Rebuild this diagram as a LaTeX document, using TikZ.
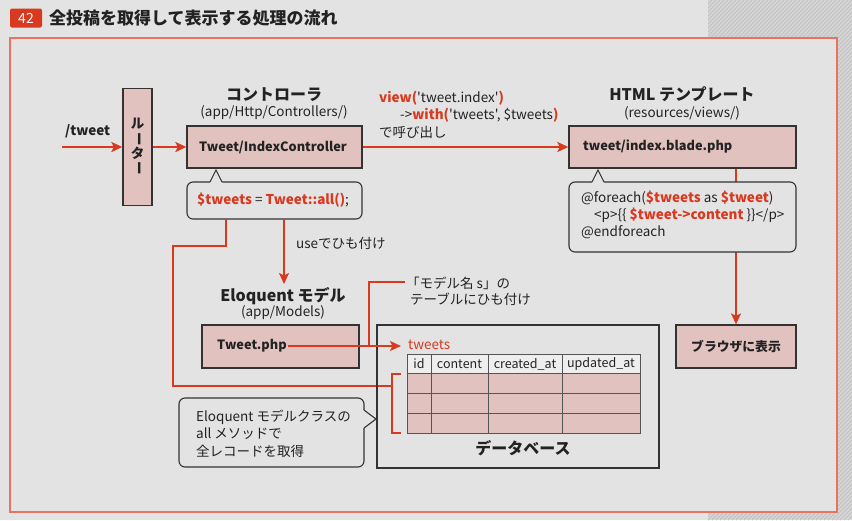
\documentclass[tikz,border=0pt]{standalone}
\usepackage{fontspec}
\setmainfont{Noto Sans CJK JP}[Ligatures=TeXOff]
\usetikzlibrary{arrows.meta}
\definecolor{bg}{HTML}{E3E3E3}
\definecolor{hatchbg}{HTML}{D9D9D9}
\definecolor{hatchln}{HTML}{C4C4C4}
\definecolor{myred}{HTML}{D8391F}
\definecolor{framered}{HTML}{E8735E}
\definecolor{pinkfill}{HTML}{E2C2BE}
\definecolor{boxline}{HTML}{333333}
\definecolor{tabline}{HTML}{555555}
\definecolor{headfill}{HTML}{EEEEEE}
\definecolor{txt}{HTML}{222222}
\newcommand\rd[1]{\textcolor{myred}{\bfseries #1}}
\newcommand\fs[1]{\fontsize{#1}{#1}\selectfont}
\begin{document}
\begin{tikzpicture}[x=1pt,y=-1pt,
  every node/.style={text=txt},
  pbox/.style={draw=boxline, line width=1.3pt, fill=pinkfill, inner sep=0pt},
  btxt/.style={font=\fs{12.8}\bfseries, inner sep=1pt},
  ttl/.style={font=\fs{16}\bfseries, inner sep=0pt},
  sub/.style={font=\fs{13.5}, inner sep=0pt},
  lbl/.style={font=\fs{13.5}, inner sep=0pt, anchor=west},
  callout/.style={draw=boxline, line width=1.1pt, fill=bg, rounded corners=6pt, inner sep=0pt},
  redarrow/.style={draw=myred, line width=2.2pt, -{Stealth[length=11pt,width=10pt,inset=2.5pt]}},
  redline/.style={draw=myred, line width=1.4pt},
  hdr/.style={font=\fs{12.5}, inner sep=0pt}
]
\useasboundingbox (0,0) rectangle (852,520);
\fill[bg] (0,0) rectangle (852,520);
% hatched corner
\begin{scope}
  \clip (708,0) rectangle (852,520);
  \fill[hatchbg] (708,0) rectangle (852,520);
  \foreach \a in {184,188,...,852} \draw[hatchln, line width=1.1pt] (\a,520) -- ++(520,-520);
\end{scope}
% main frame
\fill[bg] (10,38) rectangle (837,512);
\draw[framered, line width=1.3pt] (10,38) rectangle (837,512);
% title
\node[fill=myred, rounded corners=2pt, minimum width=32pt, minimum height=19pt, inner sep=0pt,
      text=white, font=\fs{14}] (badge) at (26,18) {42};
\node[anchor=west, font=\fs{17}\bfseries, inner sep=0pt] (title) at (49,18) {全投稿を取得して表示する処理の流れ};

% router
\node[pbox, minimum width=29pt, minimum height=117pt, align=center, font=\fs{13.5}\bfseries]
  (router) at (137.5,147) {\setlength{\baselineskip}{14.5pt}ル\\\rotatebox[origin=c]{-90}{ー}\\タ\\\rotatebox[origin=c]{-90}{ー}};
\node[lbl, font=\fs{13.5}\bfseries] (tw) at (65,131) {/tweet};
\coordinate (start) at (62,147);
\draw[redarrow] (start) -- (router.west);

% controller
\node[ttl] (ctrlt) at (274,95) {コントローラ};
\node[sub] (ctrls) at (274,113) {(app/Http/Controllers/)};
\node[pbox, minimum width=175pt, minimum height=42pt] (ctrl) at (274.5,147) {};
\node[btxt] (ctrltxt) at (273,147) {Tweet/IndexController};
\draw[redarrow] (router.east) -- (ctrl.west);

% callout 1
\node[callout, minimum width=175pt, minimum height=37pt] (c1) at (274.5,200.5) {};
\fill[bg] (210,182) -- (216,170) -- (222,182) -- (222,183.3) -- (210,183.3) -- cycle;
\draw[boxline, line width=1.1pt, line join=miter] (210,182) -- (216,170) -- (222,182);
\node[anchor=west, font=\fs{13.5}, inner sep=0pt] (c1txt) at (197,200) {\rd{\$tweets} = \rd{Tweet::all()};};

% lines from callout 1
\coordinate (a1) at (226,219);
\coordinate (a2) at (226,246);
\coordinate (a3) at (173,246);
\coordinate (a4) at (173,386);
\coordinate (a5) at (392,386);
\draw[redline] (a1) -- (a2) -- (a3) -- (a4) -- (a5);
\coordinate (b1) at (401,374);
\coordinate (b2) at (392,374);
\coordinate (b3) at (392,433);
\coordinate (b4) at (401,433);
\draw[redline] (b1) -- (b2) -- (b3) -- (b4);

\coordinate (u1) at (284,219);
\coordinate (u2) at (284,284);
\draw[redarrow, line width=1.6pt] (u1) -- (u2);
\node[lbl] (uselbl) at (296,243) {useでひも付け};

% Eloquent model
\node[ttl] (modelt) at (283,296) {Eloquent モデル};
\node[sub] (models) at (283,313) {(app/Models)};
\node[pbox, minimum width=157pt, minimum height=43pt] (model) at (280.5,346.5) {};
\node[btxt, anchor=west] (modeltxt) at (216,346) {Tweet.php};

% database
\node[draw=boxline, line width=1.4pt, minimum width=282pt, minimum height=143pt, inner sep=0pt] (db) at (518,396.5) {};
\node[ttl] (dbt) at (523,448) {データベース};
\node[anchor=west, font=\fs{13.5}, text=myred, inner sep=0pt] (tweetslbl) at (408,345) {tweets};
% table
\fill[headfill] (407,354) rectangle (640,373);
\fill[pinkfill] (407,373) rectangle (640,433);
\draw[tabline, line width=1pt] (407,354) rectangle (640,433);
\foreach \yy in {373,393,413} \draw[tabline, line width=1pt] (407,\yy) -- (640,\yy);
\foreach \xx in {431,488,562} \draw[tabline, line width=1pt] (\xx,354) -- (\xx,433);
\node[hdr] (h1) at (419,364) {id};
\node[hdr] (h2) at (459.5,364) {content};
\node[hdr] (h3) at (525,364) {created\_at};
\node[hdr] (h4) at (601,364) {updated\_at};

% model -> table
\coordinate (m0) at (288,346);
\coordinate (m1) at (401,346);
\draw[redarrow, line width=1.6pt] (m0) -- (m1);
\coordinate (k1) at (369,346);
\coordinate (k2) at (369,282);
\coordinate (k3) at (405,282);
\draw[redline] (k1) -- (k2) -- (k3);
\node[lbl] (tl1) at (406,283) {「モデル名 s」の};
\node[lbl] (tl2) at (410,299) {テーブルにひも付け};

% left callout
\node[callout, minimum width=185pt, minimum height=69pt] (c3) at (271.5,432.5) {};
\fill[bg] (364,410) -- (376,419) -- (364,428) -- (362.7,428) -- (362.7,410) -- cycle;
\draw[boxline, line width=1.1pt, line join=miter] (364,410) -- (376,419) -- (364,428);
\node[lbl] (c3l1) at (196,417) {Eloquent モデルクラスの};
\node[lbl] (c3l2) at (196,434) {all メソッドで};
\node[lbl] (c3l3) at (196,451) {全レコードを取得};

% template
\node[ttl] (tmplt) at (682,94) {HTML テンプレート};
\node[sub] (tmpls) at (682,113) {(resources/views/)};
\node[pbox, minimum width=227pt, minimum height=42pt] (tmpl) at (682.5,147) {};
\node[btxt, anchor=west] (tmpltxt) at (582,147) {tweet/index.blade.php};
\draw[redarrow] (ctrl.east) -- (tmpl.west);
\node[lbl] (v1) at (379,98) {\rd{view(}'tweet.index'\rd{)}};
\node[lbl] (v2) at (400,115) {->\rd{with(}'tweets', \$tweets\rd{)}};
\node[lbl] (v3) at (379,132) {で呼び出し};

% browser
\node[pbox, minimum width=120pt, minimum height=43pt, font=\fs{12.8}\bfseries] (browser) at (736,346.5) {ブラウザに表示};
\draw[redarrow, line width=1.8pt] (tmpl.south -| browser.north) -- (browser.north);

% callout 2
\node[callout, minimum width=227pt, minimum height=70pt] (c2) at (682.5,217) {};
\fill[bg] (592,182) -- (598,170) -- (604,182) -- (604,183.3) -- (592,183.3) -- cycle;
\draw[boxline, line width=1.1pt, line join=miter] (592,182) -- (598,170) -- (604,182);
\node[lbl] (c2l1) at (581,198) {@foreach(\rd{\$tweets} as \rd{\$tweet})};
\node[lbl] (c2l2) at (594,215) {<p>\{\{ \rd{\$tweet->content} \}\}</p>};
\node[lbl] (c2l3) at (581,232) {@endforeach};
\end{tikzpicture}
\end{document}
